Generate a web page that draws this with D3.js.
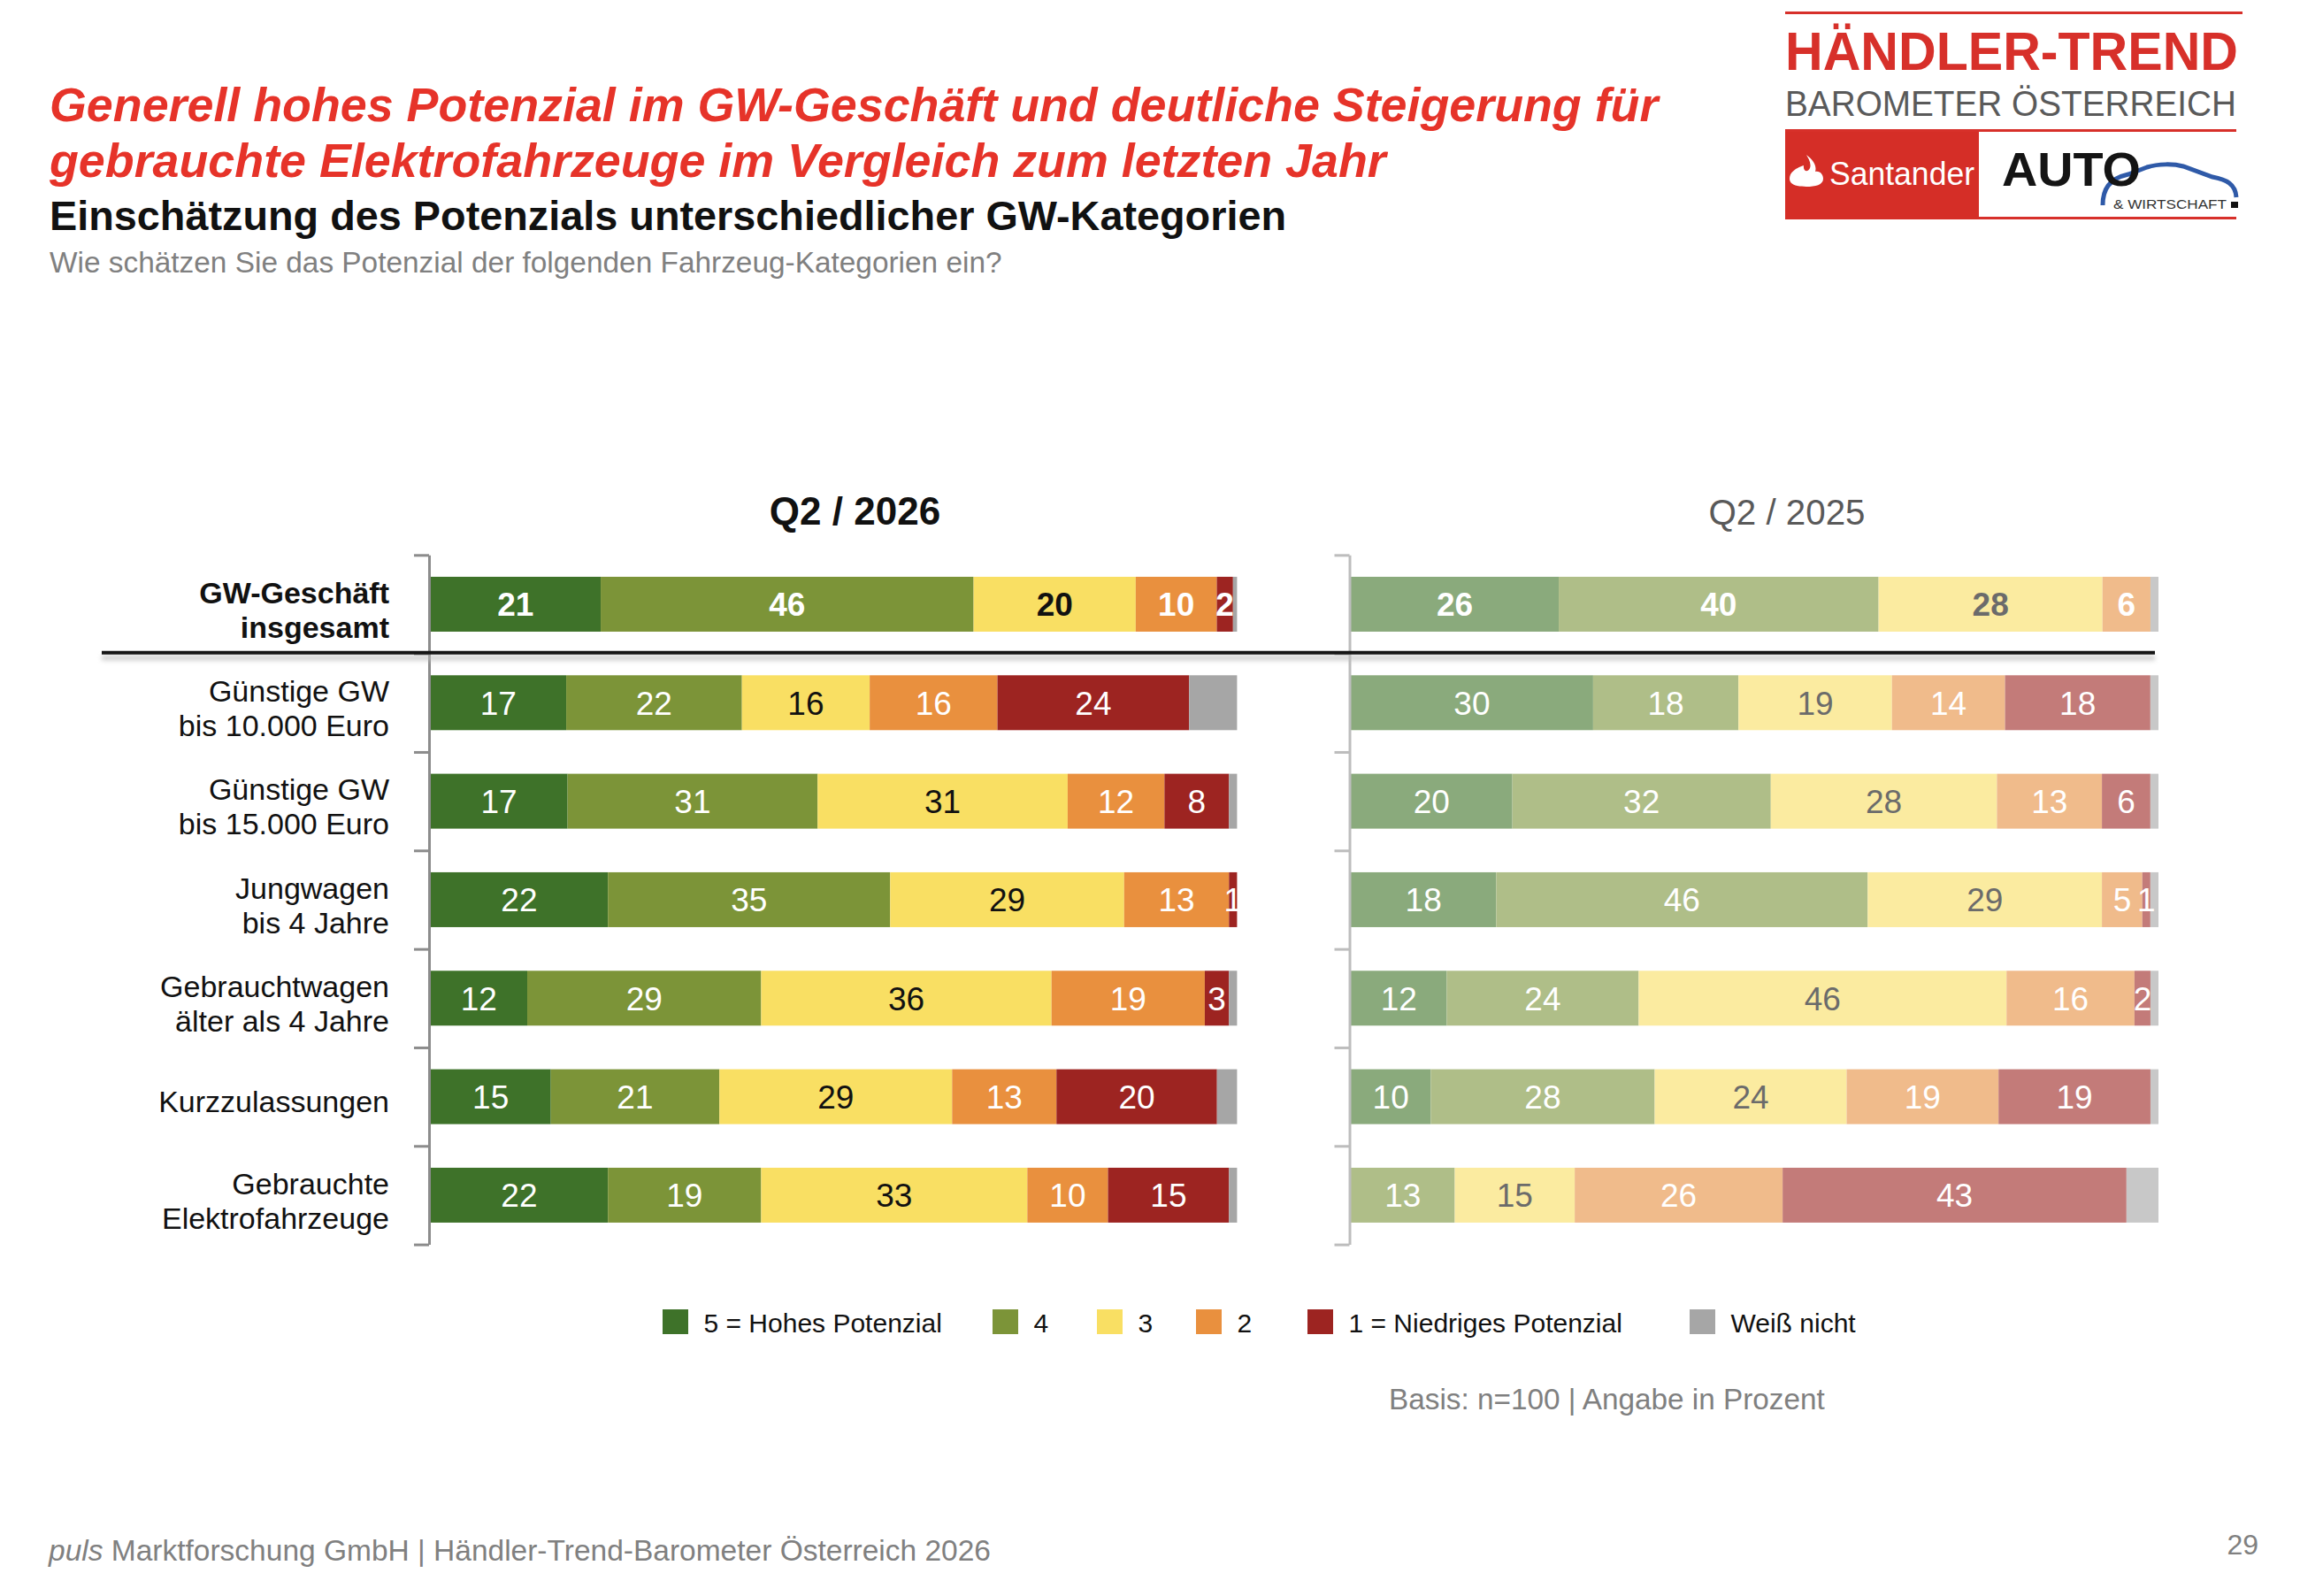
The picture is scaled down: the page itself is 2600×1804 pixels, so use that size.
<!DOCTYPE html>
<html>
<head>
<meta charset="utf-8">
<script src="https://cdn.jsdelivr.net/npm/d3@7"></script>
<style>
  body { margin: 0; background: #fff; }
  svg text { font-family: "Liberation Sans", Arial, sans-serif; }
</style>
</head>
<body>
<div id="chart"></div>
<script>
// categories (two-line labels as in the slide)
const categories = [
    ["GW-Geschäft", "insgesamt"],
    ["Günstige GW", "bis 10.000 Euro"],
    ["Günstige GW", "bis 15.000 Euro"],
    ["Jungwagen", "bis 4 Jahre"],
    ["Gebrauchtwagen", "älter als 4 Jahre"],
    ["Kurzzulassungen"],
    ["Gebrauchte", "Elektrofahrzeuge"]
];
const keys = ["p5", "p4", "p3", "p2", "p1", "wn"];
const legendLabels = ["5 = Hohes Potenzial", "4", "3", "2", "1 = Niedriges Potenzial", "Weiß nicht"];
const periods = ["Q2 / 2026", "Q2 / 2025"];

// Q2 / 2026 (in %)
const q26_p5 = [21, 17, 17, 22, 12, 15, 22];
const q26_p4 = [46, 22, 31, 35, 29, 21, 19];
const q26_p3 = [20, 16, 31, 29, 36, 29, 33];
const q26_p2 = [10, 16, 12, 13, 19, 13, 10];
const q26_p1 = [2, 24, 8, 1, 3, 20, 15];
const q26_wn = [0.5, 6, 1, 0, 1, 2.5, 1];

// Q2 / 2025 (in %)
const q25_p5 = [26, 30, 20, 18, 12, 10, 0];
const q25_p4 = [40, 18, 32, 46, 24, 28, 13];
const q25_p3 = [28, 19, 28, 29, 46, 24, 15];
const q25_p2 = [6, 14, 13, 5, 16, 19, 26];
const q25_p1 = [0, 18, 6, 1, 2, 19, 43];
const q25_wn = [1, 1, 1, 1, 1, 1, 4];

const W = 2600, H = 1804;

const svg = d3.select('#chart').append('svg')
    .attr('width', W)
    .attr('height', H);

const defs = svg.append('defs');
defs.append('filter').attr('id', 'blur')
    .attr('x', '-5%').attr('y', '-200%').attr('width', '110%').attr('height', '500%')
    .append('feGaussianBlur').attr('stdDeviation', 2.5);

// ---- header texts
svg.append('text')
    .attr('x', 56).attr('y', 137)
    .attr('font-size', 53.8).attr('font-weight', 'bold').attr('font-style', 'italic')
    .attr('fill', '#E63329')
    .text('Generell hohes Potenzial im GW-Geschäft und deutliche Steigerung für');
svg.append('text')
    .attr('x', 56).attr('y', 200)
    .attr('font-size', 53.8).attr('font-weight', 'bold').attr('font-style', 'italic')
    .attr('fill', '#E63329')
    .text('gebrauchte Elektrofahrzeuge im Vergleich zum letzten Jahr');
svg.append('text')
    .attr('x', 56).attr('y', 260)
    .attr('font-size', 46.8).attr('font-weight', 'bold')
    .attr('fill', '#111')
    .text('Einschätzung des Potenzials unterschiedlicher GW-Kategorien');
svg.append('text')
    .attr('x', 56).attr('y', 308)
    .attr('font-size', 33.4)
    .attr('fill', '#808080')
    .text('Wie schätzen Sie das Potenzial der folgenden Fahrzeug-Kategorien ein?');

// ---- logo
var logo = svg.append('g').attr('class', 'logo');
logo.append('rect').attr('x', 2018).attr('y', 13).attr('width', 517).attr('height', 3).attr('fill', '#D7302A');
logo.append('text')
    .attr('x', 2018).attr('y', 79)
    .attr('font-size', 62).attr('font-weight', 'bold').attr('fill', '#D7302A')
    .attr('textLength', 512).attr('lengthAdjust', 'spacingAndGlyphs')
    .text('HÄNDLER-TREND');
logo.append('text')
    .attr('x', 2018).attr('y', 131)
    .attr('font-size', 40).attr('fill', '#5a5a5a')
    .attr('textLength', 510).attr('lengthAdjust', 'spacingAndGlyphs')
    .text('BAROMETER ÖSTERREICH');
logo.append('rect').attr('x', 2018).attr('y', 146).attr('width', 510).attr('height', 3).attr('fill', '#D7302A');
logo.append('rect').attr('x', 2018).attr('y', 149).attr('width', 219).attr('height', 99).attr('fill', '#D52E27');
logo.append('rect').attr('x', 2237).attr('y', 245).attr('width', 291).attr('height', 3).attr('fill', '#D7302A');
logo.append('path')
    .attr('transform', 'translate(2042,195)')
    .attr('fill', '#fff')
    .attr('d', 'M-19,7 C-19,-2 -9,-6 -3,-8 C-4,-2 1,1 4,-5 C6,-11 2,-16 0,-20 C8,-14 12,-7 10,-1 C16,-2 19,3 19,7 C19,14 10,16 0,16 C-10,16 -19,14 -19,7Z');
logo.append('text')
    .attr('x', 2068).attr('y', 209)
    .attr('font-size', 37).attr('fill', '#fff')
    .attr('textLength', 164).attr('lengthAdjust', 'spacingAndGlyphs')
    .text('Santander');
logo.append('path')
    .attr('fill', 'none').attr('stroke', '#2F5AA8').attr('stroke-width', 5)
    .attr('d', 'M2377,232 C2377,214 2384,202 2406,197 L2427,189 C2440,185 2457,185 2468,188 L2501,200 C2517,203 2527,208 2528,223');
logo.append('text')
    .attr('x', 2263).attr('y', 210)
    .attr('font-size', 54).attr('font-weight', 'bold').attr('fill', '#141414')
    .attr('textLength', 157).attr('lengthAdjust', 'spacingAndGlyphs')
    .text('AUTO');
logo.append('text')
    .attr('x', 2389).attr('y', 236)
    .attr('font-size', 15).attr('fill', '#333')
    .attr('textLength', 128).attr('lengthAdjust', 'spacingAndGlyphs')
    .text('& WIRTSCHAFT');
logo.append('rect').attr('x', 2522).attr('y', 228).attr('width', 8).attr('height', 7).attr('fill', '#111');

// ---- chart
var y = d3.scaleBand()
    .domain(d3.range(categories.length))
    .range([627.3, 1406.6])
    .paddingInner(0.443)
    .paddingOuter(0.2215);

var yb = d3.scaleLinear()
    .domain([0, categories.length])
    .range([627.3, 1406.6]);

var stack = d3.stack().keys(keys).offset(d3.stackOffsetExpand);

function rowsOf(p5, p4, p3, p2, p1, wn) {
    return categories.map(function (c, i) {
        return { cat: i, p5: p5[i], p4: p4[i], p3: p3[i], p2: p2[i], p1: p1[i], wn: wn[i] };
    });
}

var panels = [
    {
        rows: rowsOf(q26_p5, q26_p4, q26_p3, q26_p2, q26_p1, q26_wn),
        x: d3.scaleLinear().domain([0, 1]).range([486.6, 1398.4]),
        axisX: 485,
        axisColor: '#8c8c8c',
        colors: { p5: '#3E7229', p4: '#7C9438', p3: '#F9DF63', p2: '#E9903E', p1: '#9D2421', wn: '#A6A6A6' },
        textColors: { p5: '#fff', p4: '#fff', p3: '#111', p2: '#fff', p1: '#fff' },
        header: { x: 966.5, weight: 'bold', size: 44, color: '#111' }
    },
    {
        rows: rowsOf(q25_p5, q25_p4, q25_p3, q25_p2, q25_p1, q25_wn),
        x: d3.scaleLinear().domain([0, 1]).range([1527, 2440]),
        axisX: 1525.5,
        axisColor: '#bdbdbd',
        colors: { p5: '#8AAA7C', p4: '#AFBE88', p3: '#FBEBA0', p2: '#F0BB8B', p1: '#C37B79', wn: '#C8C8C8' },
        textColors: { p5: '#fff', p4: '#fff', p3: '#6b6b6b', p2: '#fff', p1: '#fff' },
        header: { x: 2020, weight: 'normal', size: 40.3, color: '#595959' }
    }
];

panels.forEach(function (p, pi) {
    var g = svg.append('g').attr('class', 'panel');
    var series = stack(p.rows);

    g.append('text')
        .attr('x', p.header.x).attr('y', 593)
        .attr('text-anchor', 'middle')
        .attr('font-size', p.header.size)
        .attr('font-weight', p.header.weight)
        .attr('fill', p.header.color)
        .text(periods[pi]);

    g.selectAll('g.series')
        .data(series)
        .join('g')
        .attr('class', 'series')
        .attr('fill', function (s) { return p.colors[s.key]; })
        .selectAll('rect')
        .data(function (s) { return s; })
        .join('rect')
        .attr('x', function (d) { return p.x(d[0]); })
        .attr('y', function (d, i) { return y(i); })
        .attr('width', function (d) { return Math.max(0, p.x(d[1]) - p.x(d[0])); })
        .attr('height', y.bandwidth());

    // value labels
    series.forEach(function (s) {
        if (s.key === 'wn') return;
        g.append('g')
            .selectAll('text')
            .data(s.filter(function (d) { return d.data[s.key] > 0; }))
            .join('text')
            .attr('x', function (d) { return (p.x(d[0]) + p.x(d[1])) / 2; })
            .attr('y', function (d) { return y(d.data.cat) + y.bandwidth() / 2; })
            .attr('dy', '0.36em')
            .attr('text-anchor', 'middle')
            .attr('font-size', 37)
            .attr('font-weight', function (d) { return d.data.cat === 0 ? 'bold' : 'normal'; })
            .attr('fill', p.textColors[s.key])
            .text(function (d) { return d.data[s.key]; });
    });

    // category axis with ticks between the rows
    var axis = g.append('g')
        .attr('transform', 'translate(' + p.axisX + ',0)')
        .call(d3.axisLeft(yb).tickValues(d3.range(categories.length + 1)).tickFormat('').tickSize(17).tickSizeOuter(0));
    axis.select('.domain').attr('stroke', p.axisColor).attr('stroke-width', 3);
    axis.selectAll('.tick line').attr('stroke', p.axisColor).attr('stroke-width', 3);
});

// category labels
var labels = svg.append('g').attr('class', 'cats');
categories.forEach(function (lines, i) {
    var cy = y(i) + y.bandwidth() / 2;
    var first = lines.length === 1 ? cy + 17 : cy - 1.3;
    var t = labels.append('text')
        .attr('text-anchor', 'end')
        .attr('font-size', 34)
        .attr('font-weight', i === 0 ? 'bold' : 'normal')
        .attr('fill', '#111');
    lines.forEach(function (l, j) {
        t.append('tspan').attr('x', 440).attr('y', first + j * 39).text(l);
    });
});

// separator under the total row
var sepY = (yb(1) - 1);
svg.append('rect')
    .attr('x', 115).attr('y', sepY + 3).attr('width', 2321).attr('height', 6)
    .attr('fill', '#bdbdbd').attr('opacity', 0.7)
    .attr('filter', 'url(#blur)');
svg.append('line')
    .attr('x1', 115).attr('x2', 2436)
    .attr('y1', sepY).attr('y2', sepY)
    .attr('stroke', '#151515').attr('stroke-width', 4);

// ---- legend
var legendX = [749, 1122, 1240, 1352, 1478, 1910];
var legendColors = ['#3E7229', '#7C9438', '#F9DF63', '#E9903E', '#9D2421', '#A6A6A6'];
var legend = svg.append('g').attr('class', 'legend')
    .selectAll('g')
    .data(legendLabels)
    .join('g')
    .attr('transform', function (d, i) { return 'translate(' + legendX[i] + ',1480)'; });
legend.append('rect')
    .attr('width', 29).attr('height', 28)
    .attr('fill', function (d, i) { return legendColors[i]; });
legend.append('text')
    .attr('x', 46.5).attr('y', 26)
    .attr('font-size', 30)
    .attr('fill', '#111')
    .text(function (d) { return d; });

svg.append('text')
    .attr('x', 1570).attr('y', 1593)
    .attr('font-size', 33.3)
    .attr('fill', '#808080')
    .text('Basis: n=100 | Angabe in Prozent');

// ---- footer
var foot = svg.append('text')
    .attr('x', 55).attr('y', 1764)
    .attr('font-size', 33.5)
    .attr('fill', '#808080');
foot.append('tspan').attr('font-style', 'italic').text('puls');
foot.append('tspan').text(' Marktforschung GmbH | Händler-Trend-Barometer Österreich 2026');

svg.append('text')
    .attr('x', 2553).attr('y', 1757)
    .attr('text-anchor', 'end')
    .attr('font-size', 32)
    .attr('fill', '#808080')
    .text('29');
</script>
</body>
</html>
